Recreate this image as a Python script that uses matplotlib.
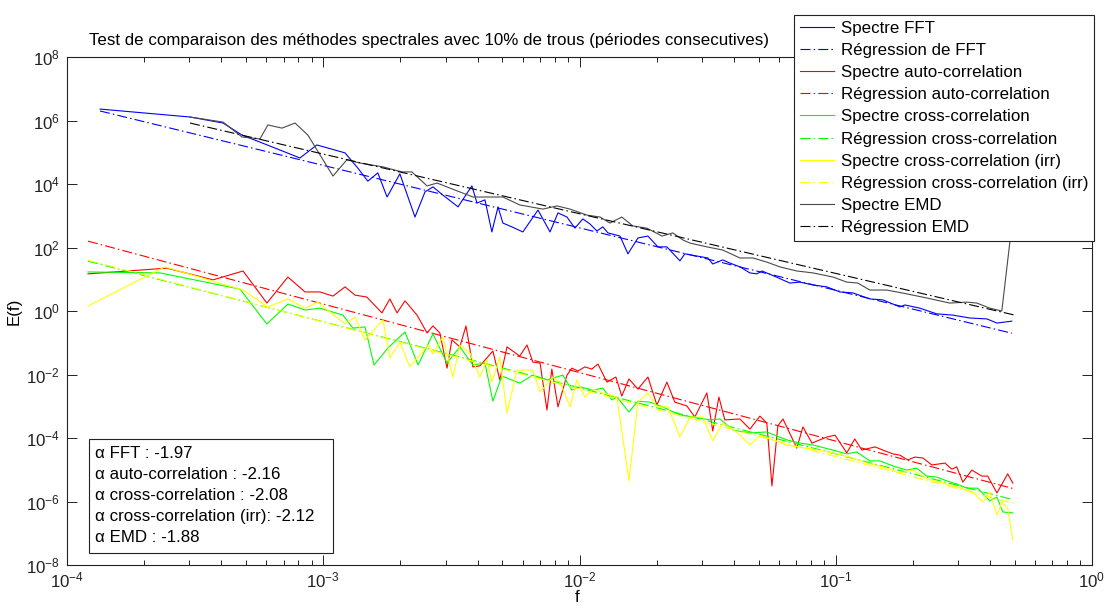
import numpy as np
import matplotlib
matplotlib.use('Agg')
import matplotlib.pyplot as plt
from matplotlib.patches import Rectangle
from matplotlib.ticker import LogLocator, LogFormatterSciNotation, NullLocator

plt.rcParams['font.family'] = ['Liberation Sans', 'DejaVu Sans']
plt.rcParams['mathtext.default'] = 'regular'

# ---------------- data (log10 f, log10 E) ----------------
fft_logf = [-3.871, -3.520, -3.391, -3.317, -3.247, -3.091, -3.025, -2.915, -2.865, -2.826,
            -2.787, -2.751, -2.701, -2.642, -2.603, -2.572, -2.533, -2.474, -2.420, -2.400,
            -2.369, -2.342, -2.318, -2.299, -2.264, -2.221, -2.162, -2.115, -2.084, -2.049,
            -2.018, -1.987, -1.959, -1.932, -1.909, -1.889, -1.842, -1.811, -1.772, -1.733,
            -1.694, -1.659, -1.608, -1.589, -1.499, -1.480, -1.441, -1.413, -1.374, -1.335,
            -1.308, -1.288, -1.249, -1.179, -1.140, -1.089, -1.035, -0.984, -0.933, -0.867,
            -0.816, -0.750, -0.730, -0.672, -0.606, -0.543, -0.477, -0.410, -0.371, -0.313]
fft_logE = [6.36, 6.11, 5.92, 5.54, 5.32, 4.82, 5.23, 4.98, 4.50, 4.09,
            4.35, 3.59, 4.32, 2.96, 3.75, 3.91, 3.65, 3.28, 3.94, 3.40,
            3.50, 2.49, 3.28, 2.77, 2.65, 2.49, 3.18, 2.49, 3.09, 2.96,
            2.61, 2.90, 2.74, 2.52, 2.65, 2.46, 2.36, 1.80, 2.30, 2.36,
            2.02, 2.02, 1.58, 1.80, 1.67, 1.48, 1.61, 1.51, 1.39, 1.20,
            1.17, 1.26, 1.13, 0.88, 0.91, 0.82, 0.76, 0.60, 0.57, 0.38,
            0.35, 0.13, 0.19, 0.09, -0.09, -0.13, -0.22, -0.25, -0.38, -0.32]

auto_logf = [-3.918, -3.610, -3.430, -3.313, -3.220, -3.138, -3.071, -3.013, -2.962, -2.915,
             -2.876, -2.830, -2.771, -2.740, -2.712, -2.681, -2.634, -2.595, -2.572, -2.545,
             -2.517, -2.498, -2.467, -2.443, -2.416, -2.389, -2.338, -2.311, -2.283, -2.233,
             -2.205, -2.182, -2.154, -2.127, -2.108, -2.084, -2.049, -2.030, -2.006, -1.979,
             -1.952, -1.928, -1.893, -1.858, -1.835, -1.807, -1.772, -1.733, -1.698, -1.659,
             -1.628, -1.581, -1.550, -1.503, -1.480, -1.456, -1.433, -1.374, -1.335, -1.296,
             -1.269, -1.249, -1.226, -1.206, -1.152, -1.128, -1.093, -1.035, -1.003, -0.957,
             -0.926, -0.898, -0.847, -0.816, -0.777, -0.750, -0.719, -0.691, -0.660, -0.625,
             -0.574, -0.547, -0.528, -0.504, -0.469, -0.430, -0.407, -0.371, -0.329, -0.309]
auto_logE = [1.17, 1.35, 0.98, 1.26, 0.25, 1.07, 0.60, 0.60, 0.47, 0.76,
             0.50, 0.44, -0.06, 0.38, -0.06, 0.32, -0.13, -0.69, -0.47, -0.69,
             -1.80, -0.91, -1.13, -0.47, -1.76, -1.73, -1.26, -2.17, -1.13, -1.42,
             -1.07, -1.61, -1.64, -3.12, -1.83, -3.02, -2.02, -1.80, -1.89, -1.76,
             -1.83, -1.67, -2.24, -2.08, -2.68, -2.14, -2.46, -2.08, -2.96, -2.24,
             -2.87, -2.99, -3.34, -2.58, -3.78, -2.71, -3.43, -3.40, -3.72, -3.31,
             -3.53, -5.51, -3.62, -3.40, -4.32, -3.65, -4.16, -3.97, -3.91, -4.47,
             -4.03, -4.38, -4.28, -4.38, -4.50, -4.54, -4.69, -4.60, -4.63, -4.85,
             -4.79, -4.98, -4.91, -5.39, -5.01, -5.20, -5.20, -5.73, -5.13, -5.42]

cross_logf = [-3.918, -3.637, -3.325, -3.220, -3.138, -3.071, -3.013, -2.923, -2.884, -2.837,
              -2.802, -2.748, -2.681, -2.630, -2.572, -2.517, -2.467, -2.416, -2.369, -2.338,
              -2.303, -2.233, -2.182, -2.127, -2.065, -2.030, -1.998, -1.948, -1.909, -1.874,
              -1.854, -1.807, -1.772, -1.725, -1.675, -1.608, -1.550, -1.491, -1.452, -1.401,
              -1.335, -1.269, -1.191, -1.140, -1.089, -1.011, -0.957, -0.918, -0.867, -0.828,
              -0.777, -0.723, -0.684, -0.645, -0.606, -0.567, -0.528, -0.488, -0.446, -0.399,
              -0.371, -0.348, -0.309]
cross_logE = [1.23, 1.20, 0.69, -0.41, 0.22, 0.03, 0.09, -0.13, -0.54, -0.50,
              -1.70, -1.17, -0.66, -1.70, -0.72, -1.64, -1.13, -1.70, -1.64, -2.84,
              -2.05, -2.27, -2.02, -2.17, -2.02, -2.49, -2.39, -2.49, -2.43, -2.80,
              -2.71, -3.18, -2.84, -2.87, -3.02, -3.28, -3.34, -3.43, -3.40, -3.75,
              -3.84, -3.81, -4.06, -4.16, -4.22, -4.38, -4.50, -4.44, -4.72, -4.72,
              -4.88, -5.01, -4.95, -5.20, -5.23, -5.35, -5.45, -5.58, -5.58, -5.98,
              -5.86, -6.33, -6.36]

irr_logf = [-3.918, -3.618, -3.313, -3.216, -3.138, -3.071, -3.021, -2.915, -2.876, -2.837,
            -2.767, -2.740, -2.701, -2.662, -2.591, -2.572, -2.533, -2.494, -2.467, -2.428,
            -2.389, -2.361, -2.342, -2.311, -2.283, -2.244, -2.182, -2.154, -2.104, -2.076,
            -2.037, -2.010, -1.979, -1.948, -1.909, -1.854, -1.807, -1.772, -1.733, -1.698,
            -1.655, -1.608, -1.569, -1.518, -1.480, -1.441, -1.386, -1.335, -1.296, -1.245,
            -1.191, -1.152, -1.089, -1.011, -0.945, -0.879, -0.816, -0.750, -0.699, -0.645,
            -0.594, -0.528, -0.465, -0.426, -0.399, -0.371, -0.352, -0.329, -0.309]
irr_logE = [0.16, 1.39, 0.66, 0.13, 0.38, 0.09, 0.28, -0.41, -0.19, -0.91,
            -0.28, -1.48, -0.98, -1.76, -1.07, -1.35, -0.82, -2.08, -1.07, -1.32,
            -2.08, -1.54, -2.24, -1.45, -3.21, -1.86, -1.86, -2.55, -2.08, -2.24,
            -3.02, -2.17, -2.71, -2.46, -2.58, -2.71, -5.35, -2.87, -2.58, -3.02,
            -3.02, -3.97, -3.34, -3.34, -4.09, -3.53, -3.81, -4.22, -3.91, -4.06,
            -4.22, -4.28, -4.35, -4.47, -4.60, -4.79, -4.91, -5.10, -5.01, -5.29,
            -5.39, -5.54, -5.70, -6.02, -5.70, -6.43, -6.02, -6.21, -7.21]

emd_logf = [-3.520, -3.391, -3.317, -3.247, -3.216, -3.161, -3.110, -3.060, -2.962, -2.908,
            -2.857, -2.767, -2.693, -2.654, -2.595, -2.556, -2.416, -2.299, -2.233, -2.143,
            -2.088, -2.037, -1.971, -1.920, -1.881, -1.835, -1.792, -1.737, -1.678, -1.636,
            -1.597, -1.569, -1.503, -1.441, -1.374, -1.323, -1.269, -1.218, -1.152, -1.089,
            -1.011, -0.957, -0.914, -0.867, -0.801, -0.723, -0.645, -0.555, -0.488, -0.449,
            -0.399, -0.352, -0.310]
emd_logE = [6.11, 5.95, 5.48, 5.42, 5.86, 5.76, 5.92, 5.54, 4.25, 4.76,
            4.66, 4.54, 4.38, 4.38, 3.94, 4.03, 3.59, 3.59, 3.34, 3.21,
            3.31, 3.21, 3.02, 2.96, 2.77, 2.96, 2.68, 2.61, 2.36, 2.46,
            2.24, 2.14, 2.02, 1.92, 1.67, 1.67, 1.54, 1.39, 1.26, 1.20,
            1.07, 0.91, 0.88, 0.66, 0.66, 0.54, 0.41, 0.25, 0.28, 0.25,
            0.09, 0.00, 2.90]

# regression lines (end points)
reg_fft_logf = [-3.871, -0.313];   reg_fft_logE = [6.30, -0.70]
reg_auto_logf = [-3.918, -0.309];  reg_auto_logE = [2.20, -5.59]
reg_cross_logf = [-3.918, -0.309]; reg_cross_logE = [1.57, -5.94]
reg_irr_logf = [-3.918, -0.309];   reg_irr_logE = [1.60, -6.05]
reg_emd_logf = [-3.520, -0.301];   reg_emd_logE = [5.92, -0.13]

alphas = [("FFT", -1.97), ("auto-correlation", -2.16), ("cross-correlation", -2.08),
          ("cross-correlation (irr)", -2.12), ("EMD", -1.88)]

title = "Test de comparaison des méthodes spectrales avec 10% de trous (périodes consecutives)"

# ---------------- figure ----------------
W, H = 1106, 608
fig = plt.figure(figsize=(W / 100, H / 100), dpi=100)
ax = fig.add_axes([67 / W, 1 - 565 / H, (1092 - 67) / W, (565 - 57) / H])

FS = 12.2
lw = 0.8
dd = (0, (9, 2.8, 1.4, 2.8))

def p(lx, ly):
    return 10 ** np.asarray(lx), 10 ** np.asarray(ly)

series = [
    (fft_logf, fft_logE, '#0000ff', '-', 'Spectre FFT'),
    (reg_fft_logf, reg_fft_logE, '#0000ff', dd, 'Régression de FFT'),
    (auto_logf, auto_logE, '#ff0000', '-', 'Spectre auto-correlation'),
    (reg_auto_logf, reg_auto_logE, '#ff0000', dd, 'Régression auto-correlation'),
    (cross_logf, cross_logE, '#00ff00', '-', 'Spectre cross-correlation'),
    (reg_cross_logf, reg_cross_logE, '#00ff00', dd, 'Régression cross-correlation'),
    (irr_logf, irr_logE, '#ffff00', '-', 'Spectre cross-correlation (irr)'),
    (reg_irr_logf, reg_irr_logE, '#ffff00', dd, 'Régression cross-correlation (irr)'),
    (emd_logf, emd_logE, '#4a4a4a', '-', 'Spectre EMD'),
    (reg_emd_logf, reg_emd_logE, '#000000', dd, 'Régression EMD'),
]
for lx, ly, c, ls, lab in series:
    x, y = p(lx, ly)
    ax.plot(x, y, color=c, ls=ls, lw=lw, label=lab)

ax.set_xscale('log')
ax.set_yscale('log')
ax.set_xlim(1e-4, 1e0)
ax.set_ylim(1e-8, 1e8)
ax.set_yticks([10.0 ** k for k in range(-8, 9, 2)])
ax.yaxis.set_minor_locator(NullLocator())
ax.xaxis.set_major_locator(LogLocator(base=10, numticks=10))
ax.xaxis.set_minor_locator(LogLocator(base=10, subs=np.arange(2, 10), numticks=20))
ax.xaxis.set_major_formatter(LogFormatterSciNotation())
ax.yaxis.set_major_formatter(LogFormatterSciNotation())
ax.tick_params(which='both', direction='in', top=True, right=True, labelsize=FS, width=0.7, colors='#222222')
ax.tick_params(which='major', length=7.2)
ax.tick_params(which='minor', length=3.6)
ax.tick_params(axis='y', pad=5)
ax.tick_params(axis='x', pad=4)
for s in ax.spines.values():
    s.set_linewidth(0.8)
    s.set_color('#222222')

fig.text(429 / W, 1 - 41 / H, title, ha='center', va='center', fontsize=FS)
fig.text(14 / W, 1 - 311 / H, 'E(f)', ha='center', va='center', rotation=90, fontsize=FS)
fig.text(577 / W, 1 - 597 / H, 'f', ha='center', va='center', fontsize=FS)

leg = ax.legend(loc='upper right', bbox_to_anchor=(1094 / W, 1 - 15 / H),
                bbox_transform=fig.transFigure, borderaxespad=0, fontsize=FS,
                handlelength=2.0, handletextpad=0.4, labelspacing=0.42,
                borderpad=0.35, fancybox=False, framealpha=1, edgecolor='#222222')
leg.get_frame().set_linewidth(0.8)

# alpha text box
rect = Rectangle((89 / W, 1 - 553 / H), (333 - 89) / W, (553 - 439) / H,
                 transform=fig.transFigure, facecolor='white', edgecolor='#222222', lw=0.8, zorder=5)
fig.patches.append(rect)
for i, (name, a) in enumerate(alphas):
    sep = ": " if name.endswith(")") else " : "
    fig.text(95 / W, 1 - (454 + 20.8 * i) / H, "α " + name + sep + f"{a:.2f}",
             ha='left', va='center', fontsize=FS, zorder=6)

fig.savefig('out.png', dpi=100)
